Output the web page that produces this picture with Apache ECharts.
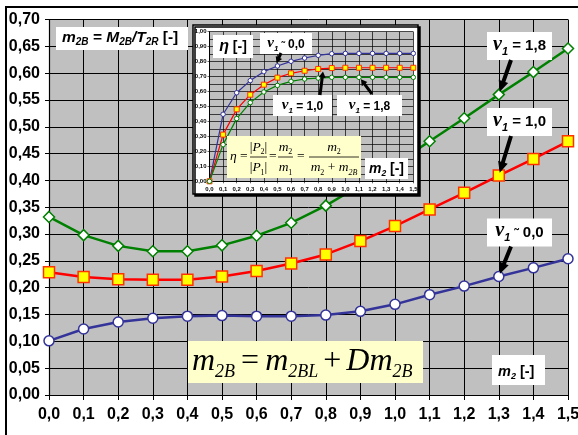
<!DOCTYPE html>
<html><head><meta charset="utf-8">
<script src="https://cdn.jsdelivr.net/npm/echarts@6/dist/echarts.min.js"></script>
<style>html,body{margin:0;padding:0;background:#fff;overflow:hidden}#c{width:578px;height:435px}</style>
</head><body><div id="c"></div>
<script>
// ---------- data ----------
const m2Values = [0.0,0.1,0.2,0.3,0.4,0.5,0.6,0.7,0.8,0.9,1.0,1.1,1.2,1.3,1.4,1.5];
const xTickLabels = ['0,0','0,1','0,2','0,3','0,4','0,5','0,6','0,7','0,8','0,9','1,0','1,1','1,2','1,3','1,4','1,5'];
const yTickLabels = ['0,00','0,05','0,10','0,15','0,20','0,25','0,30','0,35','0,40','0,45','0,50','0,55','0,60','0,65','0,70'];
const etaTickLabels = ['0,00','0,10','0,20','0,30','0,40','0,50','0,60','0,70','0,80','0,90','1,00'];
// main chart: m2B vs m2
const m2B_nu00 = [0.101,0.123,0.136,0.143,0.147,0.148,0.147,0.147,0.149,0.156,0.169,0.187,0.203,0.221,0.237,0.254];
const m2B_nu10 = [0.229,0.220,0.216,0.215,0.215,0.221,0.231,0.245,0.262,0.287,0.315,0.346,0.377,0.409,0.440,0.473];
const m2B_nu18 = [0.332,0.298,0.278,0.268,0.268,0.279,0.297,0.321,0.353,0.391,0.430,0.473,0.516,0.560,0.602,0.646];
// inset: eta vs m2
const eta_nu00 = [0,0.448,0.592,0.673,0.733,0.771,0.802,0.824,0.842,0.853,0.855,0.855,0.855,0.855,0.855,0.855];
const eta_nu10 = [0,0.312,0.481,0.579,0.646,0.693,0.722,0.739,0.751,0.757,0.759,0.759,0.759,0.759,0.759,0.759];
const eta_nu18 = [0,0.245,0.419,0.526,0.597,0.641,0.668,0.684,0.690,0.695,0.695,0.695,0.695,0.695,0.695,0.695];

// ---------- helpers ----------
const SANS = '"Liberation Sans", Arial, sans-serif';
const SERIF = '"Liberation Serif", "Times New Roman", serif';
const mctx = document.createElement('canvas').getContext('2d');
function fnt(size, o){ o=o||{}; return (o.it?'italic ':'')+(o.b?'bold ':'')+size+'px '+(o.serif?SERIF:SANS); }
function W(t,f){ mctx.font=f; return mctx.measureText(t).width; }
function line(x, baseY, parts, align, z){
  const items = parts.map(p=>({t:p[0], size:p[1], font:fnt(p[1],p[2]), dy:p[3]||0, gap:p[4]||0}));
  let total=0; items.forEach(it=>{ it.w=W(it.t,it.font); total+=it.w+it.gap; });
  let cx = align==='center' ? x-total/2 : x;
  const els=[];
  items.forEach(it=>{ cx+=it.gap;
    els.push({type:'text', z:z, silent:true, x:cx, y:baseY+it.dy-0.35*it.size,
      style:{text:it.t, font:it.font, fill:'#000', align:'left', textAlign:'left', verticalAlign:'middle', textVerticalAlign:'middle'}});
    cx+=it.w; });
  return els;
}
function box(x,y,w,h,fill,z,extra){ return Object.assign({type:'rect', z:z, silent:true, shape:{x:x,y:y,width:w,height:h}, style:{fill:fill, stroke:null}}, extra||{}); }
function arrow(x1,y1,x2,y2,w,hl,hw,z){
  const dx=x2-x1, dy=y2-y1, L=Math.hypot(dx,dy), ux=dx/L, uy=dy/L, px=-uy, py=ux;
  const bx=x2-ux*hl, by=y2-uy*hl;
  return {type:'polygon', z:z, silent:true, shape:{points:[
    [x1+px*w/2,y1+py*w/2],[bx+px*w/2,by+py*w/2],[bx+px*hw/2,by+py*hw/2],[x2,y2],
    [bx-px*hw/2,by-py*hw/2],[bx-px*w/2,by-py*w/2],[x1-px*w/2,y1-py*w/2]]}, style:{fill:'#000'}};
}
const pairs = arr => m2Values.map((x,i)=>[x,arr[i]]);
const idxOf = (v,step) => Math.round(v/step);

function lineSeries(data, grid, color, symbol, size, fill, border, lw, bw, z){
  return {type:'line', xAxisIndex:grid, yAxisIndex:grid, data:pairs(data), symbol:symbol, symbolSize:size,
    showAllSymbol:true, z:z, silent:true, animation:false,
    lineStyle:{color:color, width:lw}, itemStyle:{color:fill, borderColor:border, borderWidth:bw},
    emphasis:{disabled:true}};
}

const chart = echarts.init(document.getElementById('c'), null, {renderer:'canvas'});
const axLabelMain = {color:'#000', fontFamily:SANS, fontWeight:'bold', fontSize:16};
const axLabelInset = {color:'#000', fontFamily:SANS, fontWeight:'bold', fontSize:6};
chart.setOption({
  animation:false,
  backgroundColor:'#fff',
  grid:[
    {left:49, right:10, top:19.5, bottom:40, show:true, backgroundColor:'#C0C0C0', borderWidth:0, containLabel:false, outerBoundsMode:'none', z:0},
    {left:209.5, right:164.7, top:31.7, bottom:253.7, show:true, backgroundColor:'#C0C0C0', borderWidth:0, containLabel:false, outerBoundsMode:'none', z:10}
  ],
  xAxis:[
    {type:'value', gridIndex:0, min:0, max:1.5, interval:0.1, z:1,
     axisLine:{show:true, onZero:false, lineStyle:{color:'#000', width:1.2}},
     axisTick:{show:true, length:5, lineStyle:{color:'#000'}},
     splitLine:{show:true, lineStyle:{color:'#000', width:1}},
     axisLabel:Object.assign({margin:12, showMinLabel:true, showMaxLabel:true, formatter:v=>xTickLabels[idxOf(v,0.1)]}, axLabelMain)},
    {type:'value', gridIndex:1, min:0, max:1.5, interval:0.1, z:11,
     axisLine:{show:true, onZero:false, lineStyle:{color:'#000', width:1}},
     axisTick:{show:true, length:2, lineStyle:{color:'#000', width:0.6}},
     splitLine:{show:true, lineStyle:{color:'#000', width:0.7}},
     axisLabel:Object.assign({margin:5, showMinLabel:true, showMaxLabel:true, formatter:v=>xTickLabels[idxOf(v,0.1)]}, axLabelInset)}
  ],
  yAxis:[
    {type:'value', gridIndex:0, min:0, max:0.7, interval:0.05, z:1,
     axisLine:{show:true, onZero:false, lineStyle:{color:'#000', width:1.2}},
     axisTick:{show:true, length:4, lineStyle:{color:'#000'}},
     splitLine:{show:true, lineStyle:{color:'#000', width:1}},
     axisLabel:Object.assign({margin:9, showMinLabel:true, showMaxLabel:true, formatter:v=>yTickLabels[idxOf(v,0.05)]}, axLabelMain)},
    {type:'value', gridIndex:1, min:0, max:1, interval:0.1, z:11,
     axisLine:{show:true, onZero:false, lineStyle:{color:'#000', width:1}},
     axisTick:{show:true, length:2, lineStyle:{color:'#000', width:0.6}},
     splitLine:{show:true, lineStyle:{color:'#000', width:0.7}},
     minorTick:{show:false, splitNumber:2},
     minorSplitLine:{show:true, lineStyle:{color:'#000', width:0.7}},
     axisLabel:Object.assign({margin:3, showMinLabel:true, showMaxLabel:true, formatter:v=>etaTickLabels[idxOf(v,0.1)]}, axLabelInset)}
  ],
  series:[
    lineSeries(m2B_nu00, 0, '#333399', 'circle', 10, '#FFFFFF', '#333399', 2.5, 1.5, 2),
    lineSeries(m2B_nu10, 0, '#FF0000', 'rect', 11, '#FFFF00', '#FF3300', 2.5, 1.5, 2),
    lineSeries(m2B_nu18, 0, '#008000', 'diamond', 11, '#FFFFFF', '#008000', 2.5, 1.5, 2),
    lineSeries(eta_nu00, 1, '#333399', 'circle', 4.5, '#FFFFFF', '#333399', 1.2, 1, 12),
    lineSeries(eta_nu10, 1, '#FF0000', 'rect', 5, '#FFFF00', '#FF3300', 1.2, 1, 12),
    lineSeries(eta_nu18, 1, '#008000', 'circle', 4.5, '#FFFFFF', '#008000', 1.2, 1, 12)
  ]
});

// ---------- annotations ----------
const P = (g, x, y) => chart.convertToPixel({gridIndex:g}, [x,y]);
const g = [];
// outer frame
g.push({type:'rect', z:30, silent:true, shape:{x:6,y:7,width:700,height:600}, style:{fill:null, stroke:'#000', lineWidth:2}});
// top-left title box
g.push(box(56,27,132,23,'#fff',5));
g.push(...line(62,43,[['m',15.5,{b:1,it:1}],['2B',10,{b:1,it:1},3],[' = M',15.5,{b:1,it:1}],['2B',10,{b:1,it:1},3],['/T',15.5,{b:1,it:1}],['2R',10,{b:1,it:1},3],[' [-]',15.5,{b:1}]],'left',6));

// main nu labels with arrows
function nuMain(bx,by,rest,tilde,target){
  g.push(box(bx,by,65,28,'#fff',5));
  const parts=[['ν',20,{b:1,it:1,serif:1}],['1',11,{b:1,it:1},4]];
  if(tilde) parts.push(['˜',13,{b:1},1,4]);
  parts.push([rest,15,{b:1}]);
  g.push(...line(bx+32.5,by+19.5,parts,'center',6));
  const sx=bx+24, sy=by+28;
  const dx=target[0]-sx, dy=target[1]-sy, L=Math.hypot(dx,dy);
  g.push(arrow(sx,sy,target[0]-dx/L*3,target[1]-dy/L*3,4,11,10,6));
}
nuMain(487,32,' = 1,8',false,P(0,1.3,m2B_nu18[13]));
nuMain(487,108,' = 1,0',false,P(0,1.3,m2B_nu10[13]));
nuMain(487,218.5,' 0,0',true,P(0,1.3,m2B_nu00[13]));

// m2 [-] main
g.push(box(492,355,53,30,'#fff',5));
g.push(...line(498,377,[['m',14.5,{b:1,it:1}],['2',9,{b:1,it:1},3],[' [-]',14.5,{b:1}]],'left',6));

// big formula
g.push(box(188,341,235,42,'#FFFFCC',5));
g.push(...line(192,373,[
  ['m',32,{it:1,serif:1}],['2B',18,{it:1,serif:1},6],
  ['=',32,{serif:1},0,6],
  ['m',32,{it:1,serif:1},0,6],['2BL',18,{it:1,serif:1},6],
  ['+',32,{serif:1},0,5],
  ['Dm',32,{it:1,serif:1},0,5],['2B',18,{it:1,serif:1},6]
],'left',6));

// inset frame (below inset grid)
g.push({type:'rect', z:9, silent:true, shape:{x:193,y:25,width:225,height:169}, style:{fill:'#fff', stroke:'#000', lineWidth:1.5, shadowColor:'#000', shadowOffsetX:2, shadowOffsetY:2, shadowBlur:0}});

// inset labels
g.push(box(213,35,40,23,'#fff',20));
g.push(...line(233,52,[['η',16,{b:1,it:1}],[' [-]',14,{b:1}]],'center',21));
function nuInset(bx,by,bw,rest,tilde){
  g.push(box(bx,by,bw,21,'#fff',20));
  const parts=[['ν',15,{b:1,it:1,serif:1}],['1',8,{b:1,it:1},3]];
  if(tilde) parts.push(['˜',10,{b:1},1,3]);
  parts.push([rest,12,{b:1}]);
  g.push(...line(bx+bw/2,by+15.5,parts,'center',21));
}
nuInset(260,33,52,' 0,0',true);
nuInset(273,95,59,' = 1,0',false);
nuInset(337,95,65,' = 1,8',false);
// inset arrows
(function(){
  const t1=P(1,0.5,eta_nu00[5]); g.push(arrow(281,53,t1[0]-1,t1[1]-3,3,6,7,21));
  const t2=P(1,0.85,(eta_nu10[8]+eta_nu10[9])/2); g.push(arrow(320,95,t2[0]-2,t2[1]+3,3,6,7,21));
  const t3=P(1,1.1,eta_nu18[11]); g.push(arrow(372,94,t3[0]+2,t3[1]+2,3,6,7,21));
})();
// inset m2 [-]
g.push(box(365,158,43,21,'#fff',20));
g.push(...line(386.5,174,[['m',14,{b:1,it:1}],['2',8.5,{b:1,it:1},3],[' [-]',14,{b:1}]],'center',21));

// inset formula with fractions
g.push(box(227,136,134,42,'#FFFFCC',20));
const fs=13.5, ss=8;
g.push(...line(230,161,[['η',fs,{it:1,serif:1}],[' =',fs,{serif:1}]],'left',21));
function frac(cx,x1,x2,num,den){
  g.push(...line(cx,152,num,'center',21));
  g.push(...line(cx,172.5,den,'center',21));
  g.push({type:'line', z:21, silent:true, shape:{x1:x1,y1:157,x2:x2,y2:157}, style:{stroke:'#000', lineWidth:0.8}});
}
frac(258.5,250,267,[['|',fs,{serif:1}],['P',fs,{it:1,serif:1}],['2',ss,{serif:1},3],['|',fs,{serif:1}]],
                  [['|',fs,{serif:1}],['P',fs,{it:1,serif:1}],['1',ss,{serif:1},3],['|',fs,{serif:1}]]);
g.push(...line(269,161,[['=',fs,{serif:1}]],'left',21));
frac(285.5,278,293,[['m',fs,{it:1,serif:1}],['2',ss,{serif:1},3]],[['m',fs,{it:1,serif:1}],['1',ss,{serif:1},3]]);
g.push(...line(297,161,[['=',fs,{serif:1}]],'left',21));
frac(334,309,359,[['m',fs,{it:1,serif:1}],['2',ss,{serif:1},3]],
  [['m',fs,{it:1,serif:1}],['2',ss,{serif:1},3],[' + ',fs,{serif:1}],['m',fs,{it:1,serif:1}],['2B',ss,{it:1,serif:1},3]]);

chart.setOption({graphic:{elements:g}});
</script>
</body></html>
